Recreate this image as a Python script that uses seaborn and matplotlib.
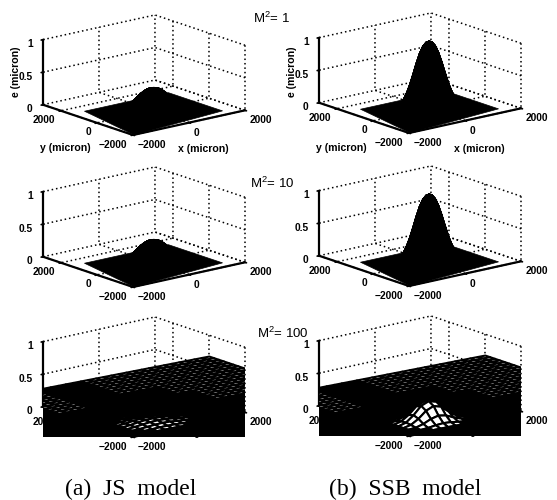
import numpy as np
import matplotlib
matplotlib.use("Agg")
import matplotlib.pyplot as plt
import seaborn as sns
from matplotlib.transforms import Bbox, TransformedBbox
from mpl_toolkits.mplot3d import proj3d

# ---- data -----------------------------------------------------------------
x_ticks = [-2000, 0, 2000]
y_ticks = [-2000, 0, 2000]
z_ticks = [0, 0.5, 1]
z_ticklabels = ["0", "0.5", "1"]
x_limits = [-2000, 2000]
y_limits = [-2000, 3000]
z_limits = [0, 1]

beam_radius = [0, 100, 200, 300, 400, 500, 600, 700, 800, 900, 1000, 1150, 1300]
js_profile = [0.35, 0.345, 0.33, 0.30, 0.26, 0.215, 0.165, 0.12, 0.08, 0.05, 0.025, 0.005, 0.0]
ssb_profile = [1.04, 1.02, 0.96, 0.85, 0.70, 0.53, 0.37, 0.24, 0.14, 0.07, 0.03, 0.01, 0.0]
js_low_profile = [0.05, 0.05, 0.048, 0.045, 0.04, 0.035, 0.03, 0.02, 0.015, 0.01, 0.005, 0.0, 0.0]
ssb_low_profile = [0.30, 0.295, 0.28, 0.25, 0.21, 0.16, 0.115, 0.075, 0.045, 0.025, 0.01, 0.0, 0.0]

sheet_x = [[-1950, 1500], [-1500, 1500]]
sheet_y = [[-1950, -1500], [1500, 1500]]
mesh_extent = [-5700, 5700]
mesh_level = [-0.07, -0.20]
# open (white) patches of the dense mesh: x0, x1, y0, y1
open_patches = [
    (2400, 5700, 2400, 5700),
    (1000, 2400, 3600, 5700),
    (3000, 5700, 1000, 2400),
    (-1600, -600, 2800, 5000),
]
open_radius = 1100

row_titles = ["M$^2$= 1", "M$^2$= 10", "M$^2$= 100"]
captions = ["(a)  JS  model", "(b)  SSB  model"]

# ---- layout (pixels in the 557x500 picture) -------------------------------
W, H = 557, 500
panel_left = [43, 319]          # screen x of the z axis
row_front_y = [[135, 287, 437], [133, 286, 436]]   # screen y of the front corner
sns.set_theme(style="white")
plt.rcParams["font.family"] = ["Liberation Sans", "DejaVu Sans"]
plt.rcParams["mathtext.default"] = "regular"
fig = plt.figure(figsize=(W / 100, H / 100), dpi=100, facecolor="white")


def px_bbox(x0, y_top, x1, y_bot):
    return TransformedBbox(Bbox([[x0 / W, 1 - y_bot / H], [x1 / W, 1 - y_top / H]]), fig.transFigure)


def make_axes():
    size = 300
    ax = fig.add_axes([0, 0, size / W, size / H], projection="3d", proj_type="ortho", computed_zorder=False)
    ax.set_facecolor("none")
    ax.patch.set_alpha(0)
    ax.view_init(elev=15.8, azim=-129)
    ax.set_box_aspect((144, 143, 67.6), zoom=1.0)
    ax.set_xlim(x_limits)
    ax.set_ylim(y_limits)
    ax.set_zlim(z_limits)
    ax.set_xticks(x_ticks)
    ax.set_yticks(y_ticks)
    ax.set_zticks(z_ticks)
    ax.set_zticklabels(z_ticklabels)
    ax.tick_params(labelsize=7.4, pad=-4, colors="black", length=2)
    for lab in ax.get_xticklabels():
        lab.set_fontweight("bold")
        lab.set_ha("left")
    for lab in ax.get_yticklabels():
        lab.set_fontweight("bold")
        lab.set_ha("right")
    for lab in ax.get_zticklabels():
        lab.set_fontweight("bold")
        lab.set_ha("right")
    for axis in (ax.xaxis, ax.yaxis, ax.zaxis):
        axis.set_pane_color((1, 1, 1, 0))
        axis.pane.set_edgecolor("none")
        axis.line.set_color("black")
        axis.line.set_linewidth(1.6)
        axis._axinfo["grid"].update(color="black", linewidth=1.1, linestyle=(0, (1, 1.9)))
    return ax


def place(ax, col, row):
    """Scale and shift the 3D axes so that its box lands on the wanted pixels."""
    def screen(x, y, z):
        M = ax.get_proj()
        xs, ys, _ = proj3d.proj_transform(x, y, z, M)
        return ax.transData.transform((xs, ys))
    fig.canvas.draw()
    left = screen(x_limits[0], y_limits[1], 0)
    right = screen(x_limits[1], y_limits[0], 0)
    bb = ax.get_position()
    new = bb.width * W * 202.0 / (right[0] - left[0])
    ax.set_position([bb.x0, bb.y0, new / W, new / H])
    fig.canvas.draw()
    f = screen(x_limits[0], y_limits[0], 0)
    l2 = screen(x_limits[0], y_limits[1], 0)
    bb = ax.get_position()
    dx = panel_left[col] - l2[0]
    dy = (H - row_front_y[col][row]) - f[1]
    ax.set_position([bb.x0 + dx / W, bb.y0 + dy / H, bb.width, bb.height])


def revolve(ax, radius, heights):
    theta = np.linspace(0, 2 * np.pi, 49)
    R, T = np.meshgrid(radius, theta)
    Z = np.tile(np.asarray(heights), (len(theta), 1))
    ax.plot_surface(R * np.cos(T), R * np.sin(T), Z, color="black", shade=False,
                    linewidth=0.4, edgecolor="black")


def draw_mesh(ax, prof, clip):
    g = np.arange(mesh_extent[0], mesh_extent[1] + 1, 270.0)
    X, Y = np.meshgrid(g, g)
    Z = mesh_level[0] + (X - mesh_extent[0]) / (mesh_extent[1] - mesh_extent[0]) * (mesh_level[1] - mesh_level[0])
    Z = Z + np.interp(np.hypot(X, Y), beam_radius, prof)
    xc = 0.5 * (X[:-1, :-1] + X[1:, 1:])
    yc = 0.5 * (Y[:-1, :-1] + Y[1:, 1:])
    is_open = np.hypot(xc, yc) < open_radius
    for x0, x1, y0, y1 in open_patches:
        is_open |= (xc >= x0) & (xc <= x1) & (yc >= y0) & (yc <= y1)
    faces = np.zeros(xc.shape + (4,))
    faces[..., 3] = 1.0
    faces[is_open] = (1, 1, 1, 1)
    surf = ax.plot_surface(X, Y, Z, rstride=1, cstride=1, facecolors=faces, shade=False, linewidth=1.5)
    surf.set_edgecolor("black")
    surf.set_linewidth(1.5)
    surf.set_clip_path(None)
    surf.set_clip_box(clip)


for row in range(3):
    for col in range(2):
        ax = make_axes()
        place(ax, col, row)
        if row < 2:
            ax.plot_surface(np.array(sheet_x), np.array(sheet_y), np.zeros((2, 2)), color="black",
                            shade=False, linewidth=0.5, edgecolor="black")
            revolve(ax, beam_radius, js_profile if col == 0 else ssb_profile)
        else:
            clip = px_bbox(panel_left[col], 300, panel_left[col] + 202, row_front_y[col][row])
            draw_mesh(ax, js_low_profile if col == 0 else ssb_low_profile, clip)

label_style = dict(fontsize=7.6, fontweight="bold", color="black", ha="center", va="center")
for col, off in enumerate([0, 276]):
    fig.text((65 + off) / W, 1 - 148 / H, "y (micron)", **label_style)
    fig.text((203 + off) / W, 1 - 149 / H, "x (micron)", **label_style)
    fig.text((16 + off) / W, 1 - 72 / H, "e (micron)", rotation=90, **label_style)

title_xy = [(253, 23), (250, 188), (257, 338)]
for (tx, ty), t in zip(title_xy, row_titles):
    fig.text(tx / W, 1 - ty / H, t, fontsize=9.5, ha="left", va="baseline", color="black")
for cx, c in zip([131, 405], captions):
    fig.text(cx / W, 1 - 495 / H, c, fontsize=17, family="Liberation Serif", ha="center", va="baseline", color="black")

fig.savefig("out.png", dpi=100, facecolor="white")
